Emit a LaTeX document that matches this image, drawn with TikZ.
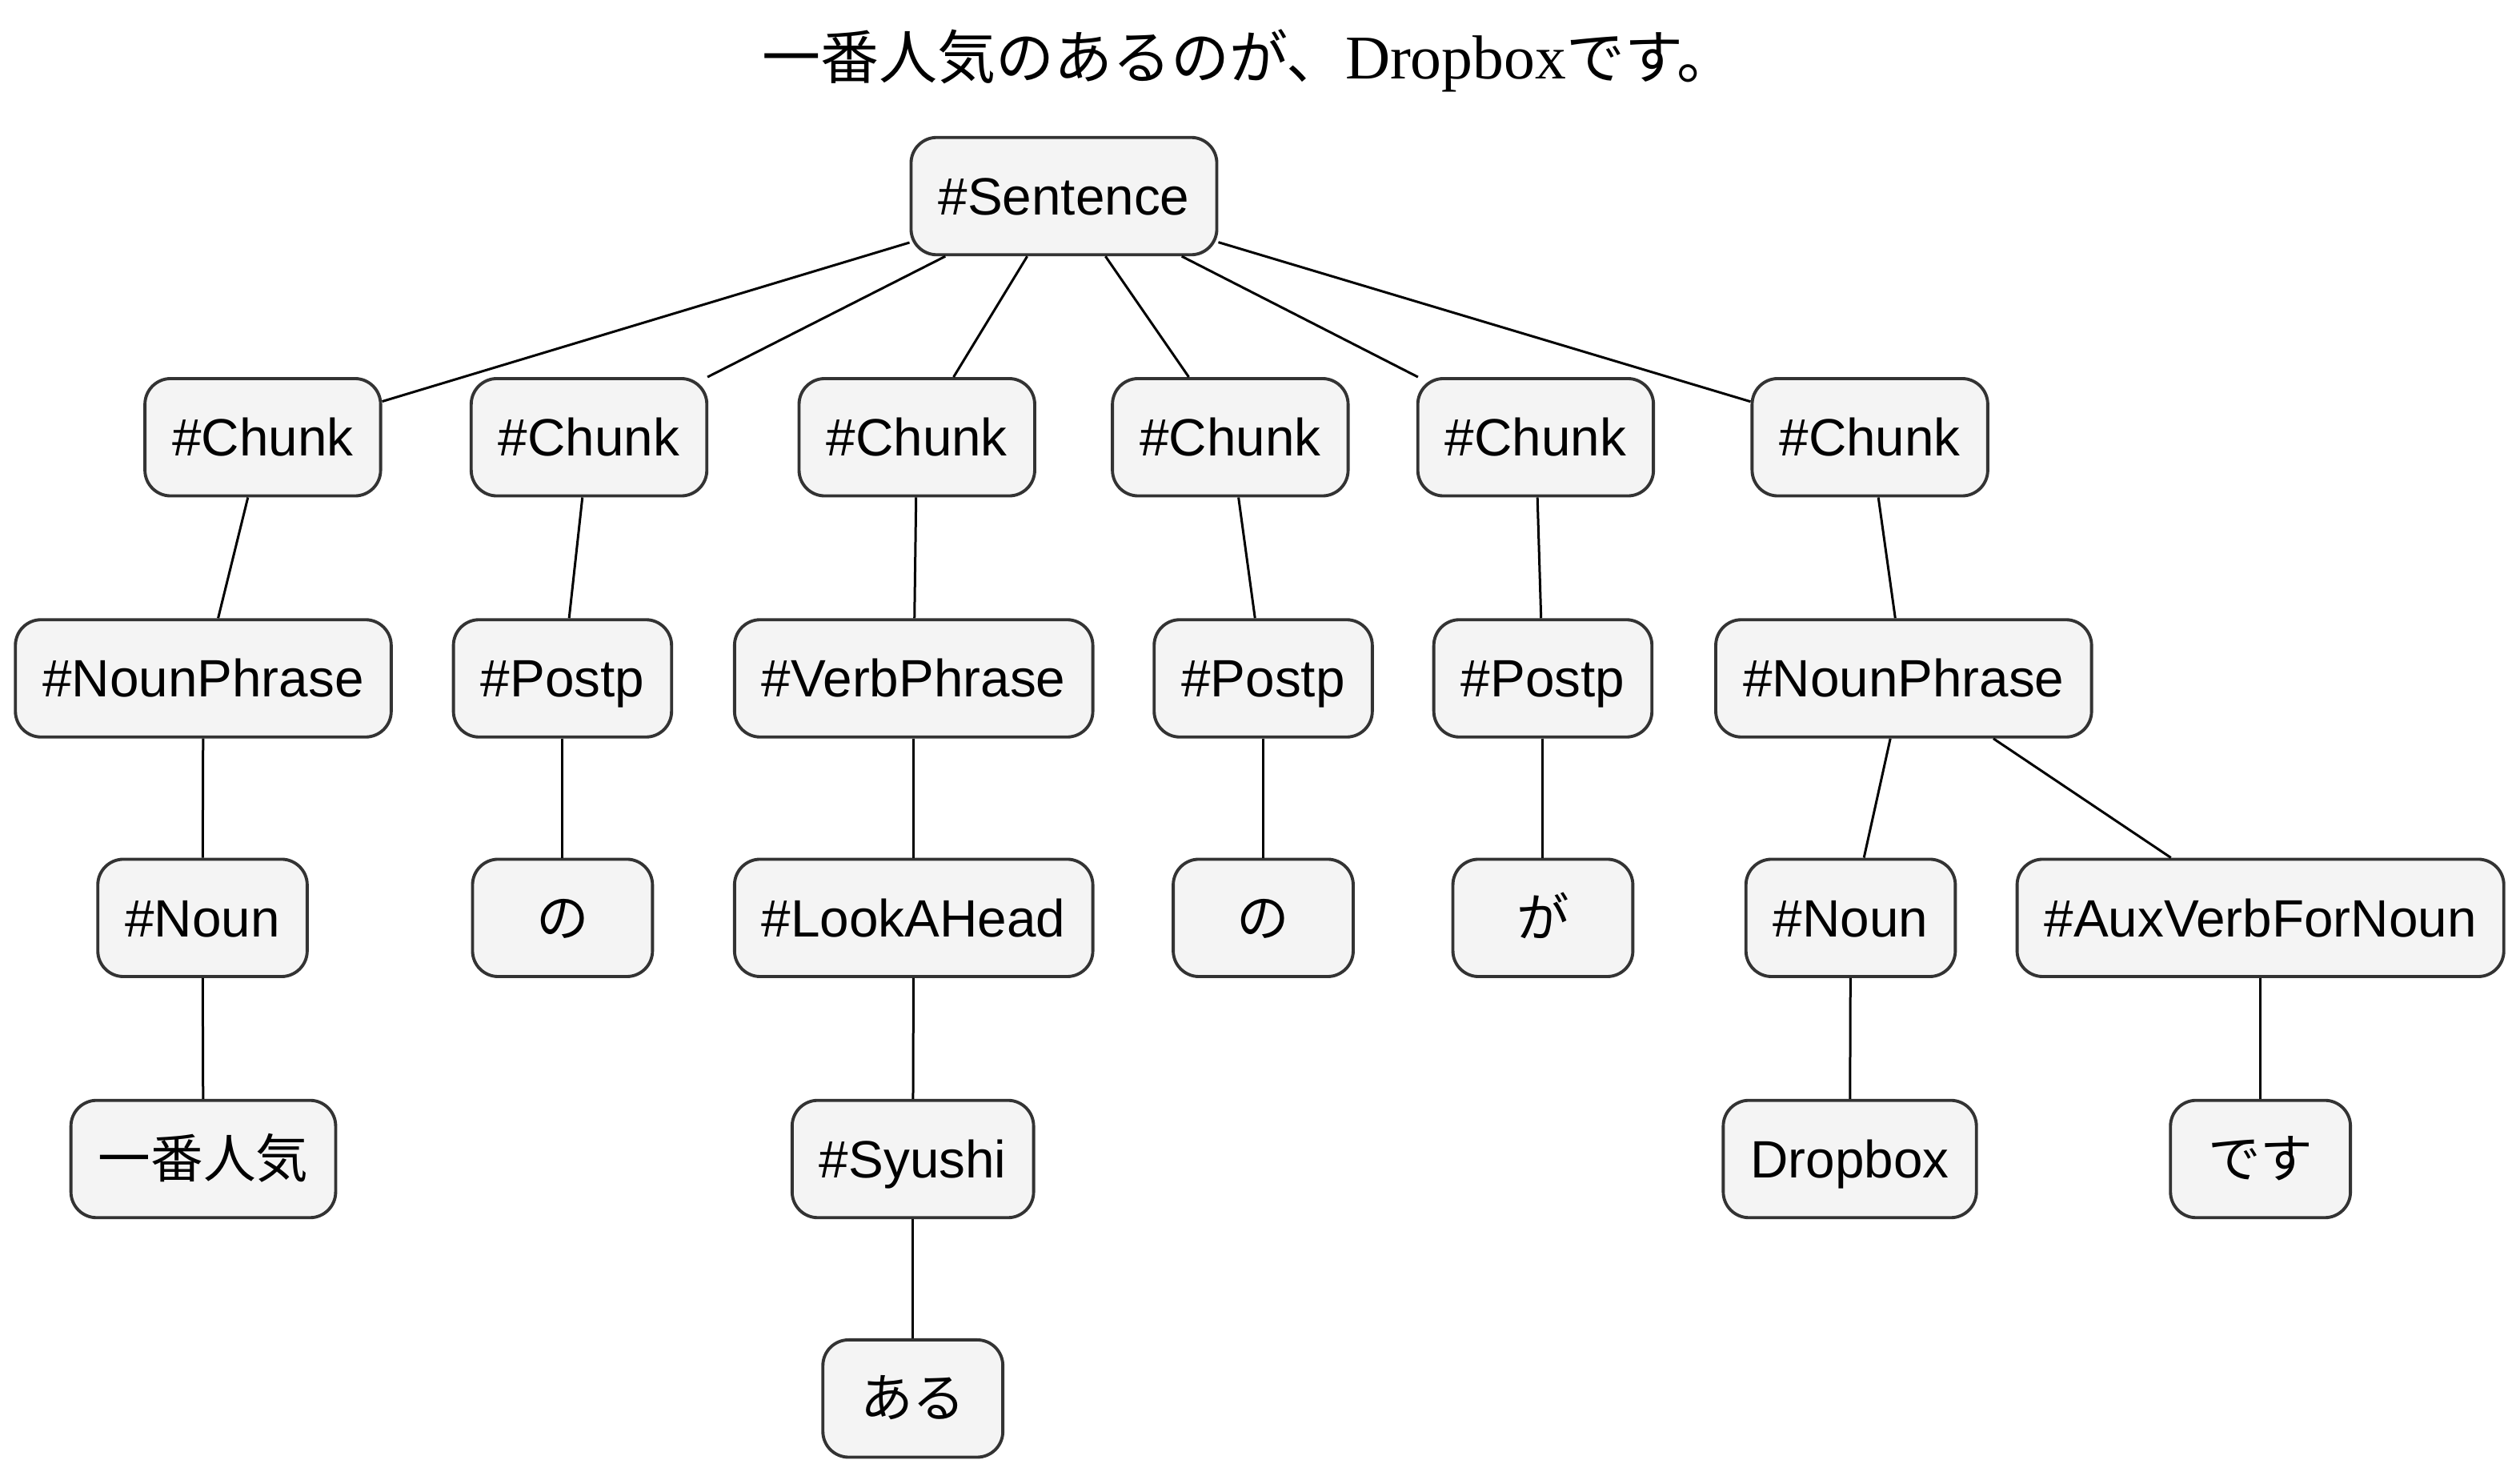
\documentclass[tikz,border=0pt]{standalone}
\usepackage{fontspec}
\setmainfont{Liberation Sans}
\newfontfamily\jpfont{Noto Sans CJK JP}
\newfontfamily\titleserif{Liberation Serif}
\definecolor{boxfill}{HTML}{F4F4F4}
\definecolor{boxline}{HTML}{333333}

\begin{document}
\begin{tikzpicture}[x=0.02cm,y=-0.02cm]
\tikzstyle{tok}=[draw=boxline,fill=boxfill,line width=1.1pt,rounded corners=0.32cm,
  minimum height=1.46cm,minimum width=2.24cm,inner xsep=0.34cm,
  text height=15.5pt,text depth=2.2pt,
  font=\fontsize{18.6}{22}\selectfont]
\tikzstyle{edge}=[black,line width=0.85pt]
\useasboundingbox (0,0) rectangle (1568,915.6);
\node (title) at (777,38) {\fontsize{20.7}{24}\selectfont\jpfont 一番人気のあるのが、{\titleserif\fontsize{22}{24}\selectfont Dropbox}です。};
\node [tok] (s) at (662,122) {\#Sentence};
\node [tok] (c1) at (163.5,272) {\#Chunk};
\node [tok] (c2) at (366.5,272) {\#Chunk};
\node [tok] (c3) at (570.5,272) {\#Chunk};
\node [tok] (c4) at (765.5,272) {\#Chunk};
\node [tok] (c5) at (955.5,272) {\#Chunk};
\node [tok] (c6) at (1163.5,272) {\#Chunk};
\node [tok] (np1) at (126.5,422) {\#NounPhrase};
\node [tok] (pp1) at (350,422) {\#Postp};
\node [tok] (vp) at (568.5,422) {\#VerbPhrase};
\node [tok] (pp2) at (786,422) {\#Postp};
\node [tok] (pp3) at (960,422) {\#Postp};
\node [tok] (np2) at (1184.5,422) {\#NounPhrase};
\node [tok] (n1) at (126,571) {\#Noun};
\node [tok] (no1) at (350,571) {\jpfont の};
\node [tok] (la) at (568.5,571) {\#LookAHead};
\node [tok] (no2) at (786,571) {\jpfont の};
\node [tok] (ga) at (960,571) {\jpfont が};
\node [tok] (n2) at (1151.5,571) {\#Noun};
\node [tok] (aux) at (1406.5,571) {\#AuxVerbForNoun};
\node [tok] (w1) at (126.5,721) {\jpfont 一番人気};
\node [tok] (sy) at (568,721) {\#Syushi};
\node [tok] (w2) at (1151,721) {Dropbox};
\node [tok] (w3) at (1406.5,721) {\jpfont です};
\node [tok] (w4) at (568,870) {\jpfont ある};
\draw [edge] (s) -- (c1);
\draw [edge] (s) -- (c2);
\draw [edge] (s) -- (c3);
\draw [edge] (s) -- (c4);
\draw [edge] (s) -- (c5);
\draw [edge] (s) -- (c6);
\draw [edge] (c1) -- (np1);
\draw [edge] (c2) -- (pp1);
\draw [edge] (c3) -- (vp);
\draw [edge] (c4) -- (pp2);
\draw [edge] (c5) -- (pp3);
\draw [edge] (c6) -- (np2);
\draw [edge] (np1) -- (n1);
\draw [edge] (pp1) -- (no1);
\draw [edge] (vp) -- (la);
\draw [edge] (pp2) -- (no2);
\draw [edge] (pp3) -- (ga);
\draw [edge] (np2) -- (n2);
\draw [edge] (np2) -- (aux);
\draw [edge] (n1) -- (w1);
\draw [edge] (la) -- (sy);
\draw [edge] (n2) -- (w2);
\draw [edge] (aux) -- (w3);
\draw [edge] (sy) -- (w4);
\end{tikzpicture}
\end{document}
